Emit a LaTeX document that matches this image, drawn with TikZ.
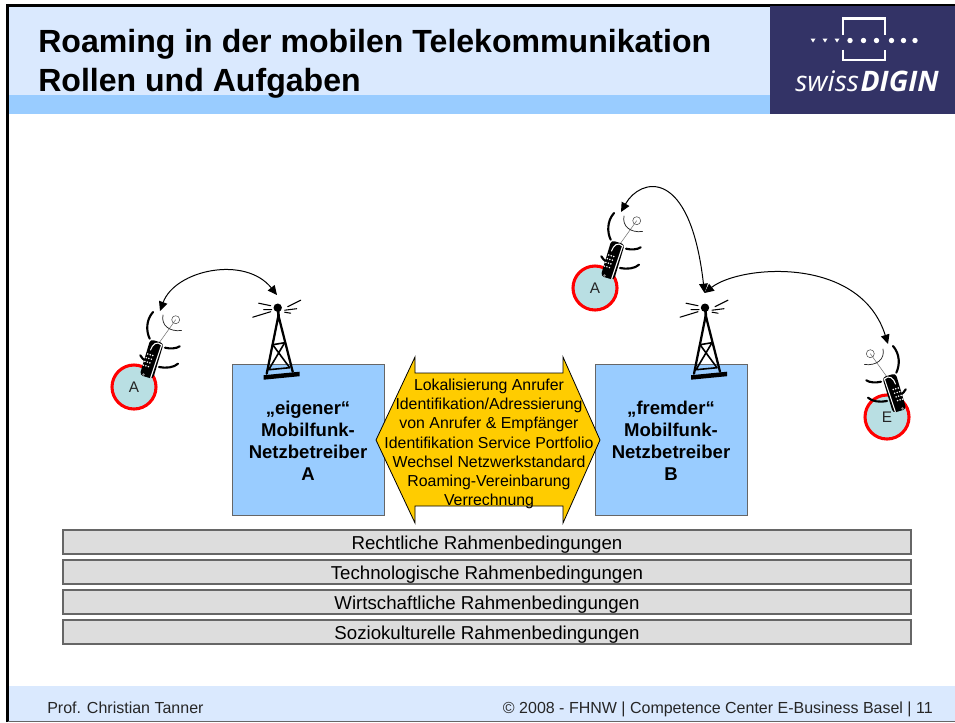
\documentclass[tikz,border=0pt]{standalone}
\usepackage{fontspec}
\setmainfont{Liberation Sans}
\newfontfamily\logofont{Open Sans}
\usetikzlibrary{arrows.meta}
\definecolor{bandlight}{HTML}{DAE9FE}
\definecolor{bandblue}{HTML}{99CCFF}
\definecolor{logoblue}{HTML}{333366}
\definecolor{barfill}{HTML}{DDDDDD}
\definecolor{barline}{HTML}{666666}
\definecolor{gold}{HTML}{FFCC00}
\definecolor{circfill}{HTML}{B9DFE3}
\definecolor{pxred}{HTML}{FF0000}
\newcommand{\fsz}[2]{\fontsize{#1}{#2}\selectfont}
\tikzset{
  x=0.75pt,y=-0.75pt,
  netbox/.style={draw=barline,line width=0.75pt,fill=bandblue},
  nettext/.style={align=center,font=\fsz{13.9}{16.6}\bfseries,text=black,inner sep=0pt},
  framebar/.style={draw=barline,line width=0.9pt,fill=barfill,minimum width=636pt,minimum height=18pt,inner sep=0pt,font=\fsz{14}{16},text height=11pt,text depth=0.5pt},
  person/.style={circle,draw=pxred,line width=2.3pt,fill=circfill,minimum size=33pt,inner sep=0pt,font=\fsz{11.5}{13},text=black!85},
  link/.style={line width=0.75pt,{Triangle[length=7pt,width=6.5pt]}-{Triangle[length=7pt,width=6.5pt]}},
  wave/.style={line width=1.6pt,line cap=round},
  footer/.style={inner sep=0pt,font=\fsz{12}{14},text=black!85},
}
\newcommand{\towericon}[2]{%
\begin{scope}[shift={(#1,#2)},line cap=round]
  \fill (0,0) circle[radius=4.2];
  \draw[line width=2pt] (0.5,3) -- (1,12);
  \draw[line width=1.7pt] (0.5,9) -- (-11,66) (1,9) -- (15,64);
  \draw[line width=1.2pt] (-5,37) -- (7,35) (-5,37) -- (12,60) (7,35) -- (-9,62) (-9,62) -- (12,60);
  \fill (-14,67.5) -- (22,64) -- (22,68.5) -- (-14,72) -- cycle;
  \draw[line width=0.8pt] (-19,-4.5) -- (-7,-2) (-14,2) -- (-6,2) (-25,9.5) -- (-7,4)
        (10,-1) -- (23,-7.5) (7,2.5) -- (19,1) (7,4.5) -- (13,5.5);
\end{scope}}
\newcommand{\phoneicon}[3]{%
\begin{scope}[shift={(#1,#2)},xscale=#3,line cap=round]
  \draw[black!55,line width=0.4pt] (25.7,-45) -- (41.7,-67.3);
  \draw[black!70,line width=0.4pt] (41.7,-67.3) circle[radius=4];
  \draw[black!85,line width=0.55pt] (29,-72) .. controls (27,-62) and (35,-55) .. (47.5,-56.5);
  \draw[wave] (19,-75) .. controls (12,-67) and (12,-56) .. (15.7,-48.3);
  \draw[wave] (31,-39.3) .. controls (36,-38) and (43,-38.5) .. (45.7,-40.7);
  \draw[wave] (25,-20) .. controls (32,-18.5) and (40,-19.5) .. (44,-23.3);
  \draw[wave] (6.3,-31.7) .. controls (7.5,-29.5) and (9,-28) .. (10.7,-26.7);
  \fill[black,rounded corners=2.5pt] (16.3,-47.7) -- (29.7,-43.7) -- (19,-8) -- (5.7,-12) -- cycle;
  \draw[white,line width=0.8pt] (16.5,-37) .. controls (18.5,-43) and (23,-46.5) .. (27.6,-42) -- (16.7,-9.3);
  \foreach \i in {0,1,2,3}{\foreach \j in {0,1,2}{%
    \fill[white] ({13.8+\j*2.5+\i*(-1.45)},{-33+\j*0.75+\i*3.7}) circle[radius=0.85];}}
  \fill[black!45] (9.5,-12.5) circle[radius=1.3];
\end{scope}}
\begin{document}
\begin{tikzpicture}
\useasboundingbox (0,0) rectangle (955,722);
% frame and bands
\fill[white] (0,0) rectangle (955,722);
\fill[bandlight] (8,5) rectangle (955,95);
\fill[bandblue] (8,95) rectangle (955,114);
\fill[bandlight] (8,686) rectangle (955,721);
\draw[black,line width=1.9pt] (7.5,722) -- (7.5,5.3) -- (955,5.3);
\draw[barline,line width=0.75pt] (8,721) -- (955,721);
% logo
\fill[logoblue] (770,6) rectangle (955,113.5);
\begin{scope}[shift={(770,0)},white,line width=1.8pt]
  \draw (72.7,35) -- (72.7,18.5) -- (115,18.5) -- (115,35);
  \draw (72.7,49.5) -- (72.7,60) -- (115,60) -- (115,49.5);
  \foreach \x in {43,55,67}{\fill (\x-2.5,38.5) -- (\x+2.5,38.5) -- (\x,42.5) -- cycle;}
  \foreach \x in {80,93.5,106.5,121.5,133.5,145}{\fill (\x,40.5) circle[radius=2.7];}
\end{scope}
\node[anchor=base west,inner sep=0pt,text=white,font=\logofont\fsz{21.2}{24}] (logo) at (795,91.5) {\textit{swiss}\kern1pt\textbf{\textit{DIGIN}}};
% titles
\node[anchor=base west,inner sep=0pt,font=\fsz{24.05}{29}\bfseries] (title1) at (38,52) {Roaming in der mobilen Telekommunikation};
\node[anchor=base west,inner sep=0pt,font=\fsz{24.05}{29}\bfseries] (title2) at (38,91) {Rollen und Aufgaben};
% arrow and boxes
\draw[netbox] (232,364) rectangle (384,515);
\draw[netbox] (595,364) rectangle (747,515);
\draw[black,line width=0.6pt,fill=gold] (376,440) -- (415,357) -- (415,373) -- (563,373) -- (563,357) -- (600,440) -- (563,523) -- (563,506) -- (415,506) -- (415,523) -- cycle;
\node[nettext] (netA) at (308,441) {„eigener“\\Mobilfunk-\\Netzbetreiber\\A};
\node[nettext] (netB) at (671,441) {„fremder“\\Mobilfunk-\\Netzbetreiber\\B};
\node[align=center,inner sep=0pt,font=\fsz{11.9}{14.45}] (tasks) at (489,444) {Lokalisierung Anrufer\\Identifikation/Adressierung\\von Anrufer \& Empfänger\\Identifikation Service Portfolio\\Wechsel Netzwerkstandard\\Roaming-Vereinbarung\\Verrechnung};
% bars
\node[framebar] (bar1) at (487,542) {Rechtliche Rahmenbedingungen};
\node[framebar] (bar2) at (487,572) {Technologische Rahmenbedingungen};
\node[framebar] (bar3) at (487,602) {Wirtschaftliche Rahmenbedingungen};
\node[framebar] (bar4) at (487,632) {Soziokulturelle Rahmenbedingungen};
% towers
\towericon{277.7}{307.7}
\towericon{705}{307.7}
% persons and phones
\node[person] (personA) at (134,387) {A};
\node[person] (personB) at (595,288) {A};
\node[person] (personE) at (887,417) {E};
\phoneicon{134}{387}{1}
\phoneicon{595}{288}{1}
\phoneicon{912}{421}{-1}
% links
\coordinate (towerAtop) at (277,295);
\coordinate (towerBtop) at (704.5,293);
\coordinate (phoneA) at (160,311);
\coordinate (phoneB) at (621,212);
\coordinate (phoneE) at (888,344);
\draw[link] (phoneA) .. controls (175,270) and (245,255) .. (towerAtop);
\draw[link] (phoneB) .. controls (640,178) and (690,165) .. (towerBtop);
\draw[link] (towerBtop) .. controls (740,265) and (860,255) .. (phoneE);
% footer
\node[footer,anchor=base west] (foot1) at (47,713) {Prof. Christian Tanner};
\node[footer,anchor=base east] (foot2) at (933,713) {© 2008 - FHNW | Competence Center E-Business Basel | 11};
\end{tikzpicture}
\end{document}
